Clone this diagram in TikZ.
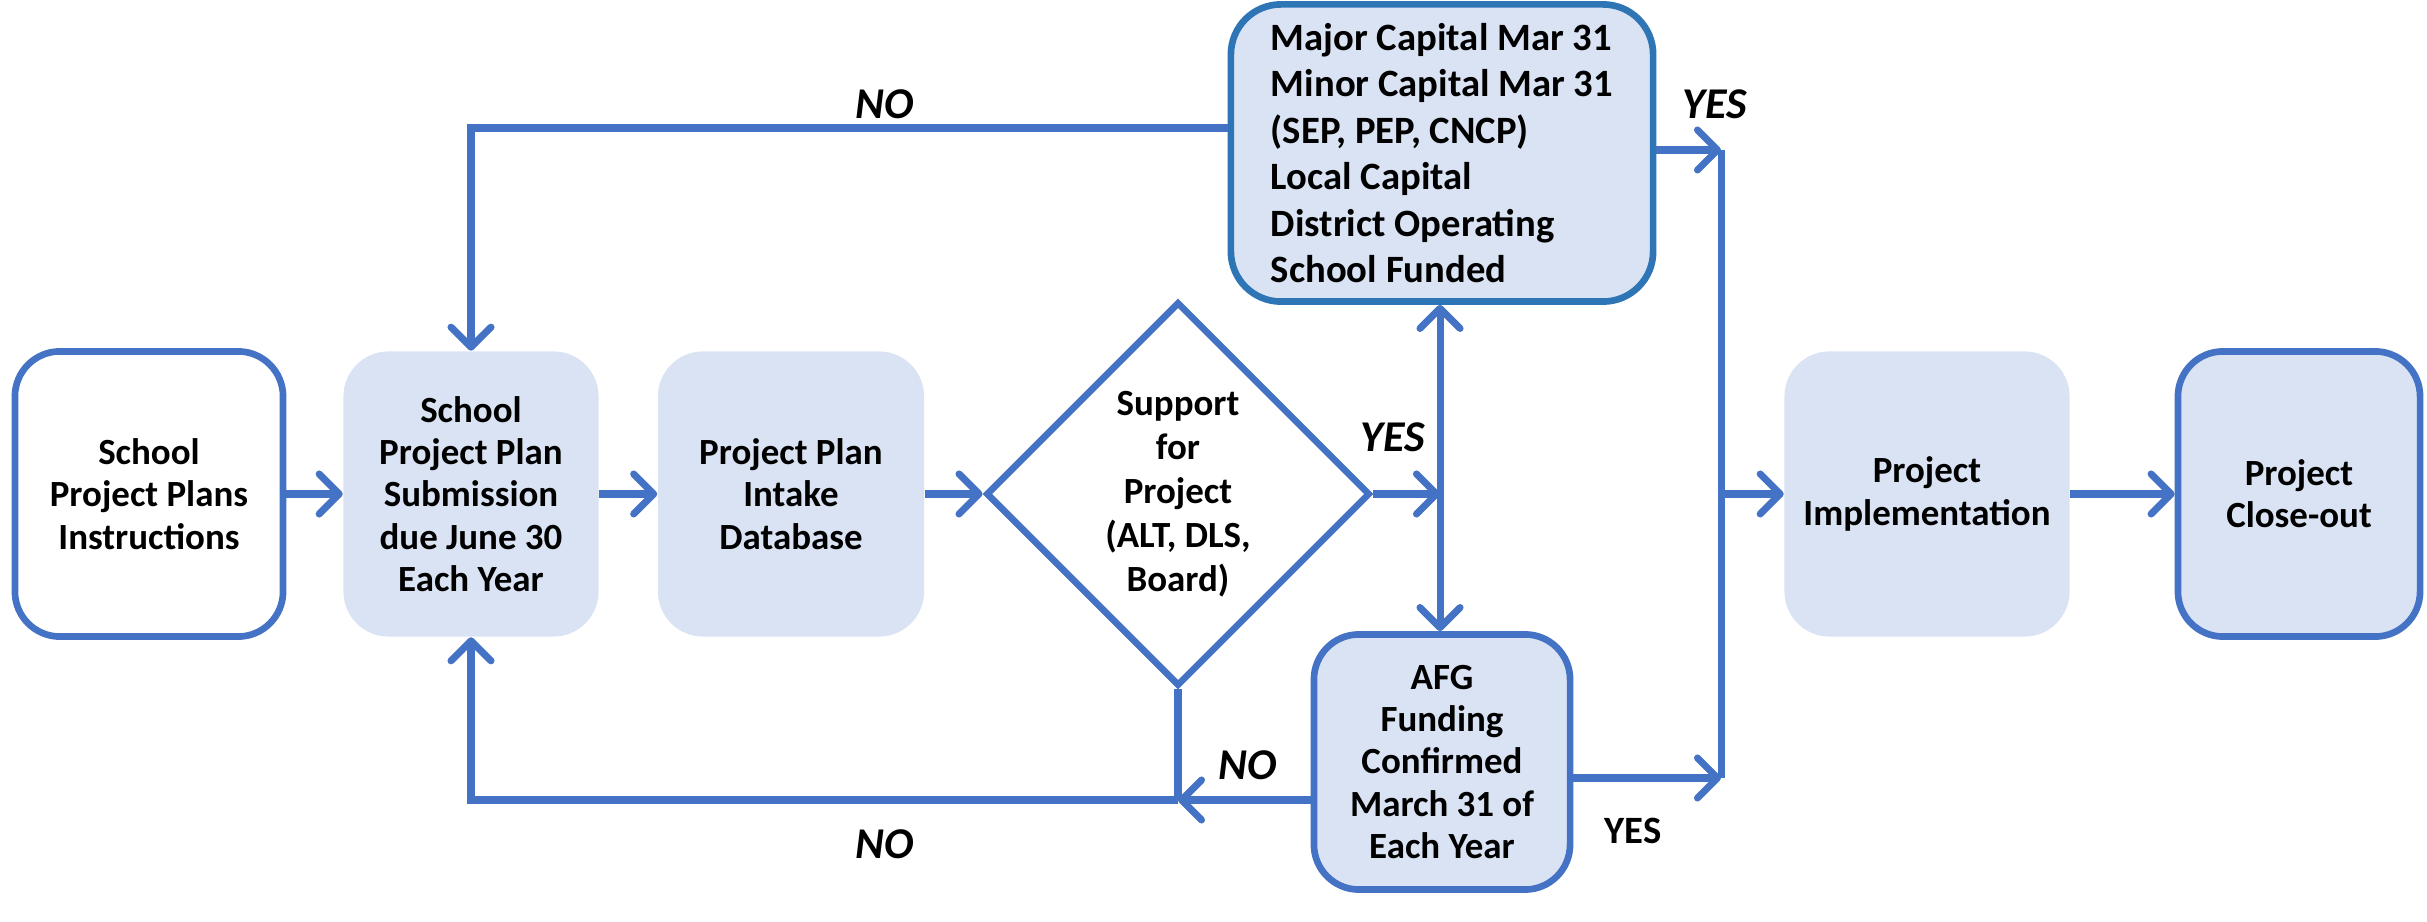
\documentclass[tikz,border=0pt]{standalone}
\usepackage{fontspec}
\setmainfont{Carlito}
\usetikzlibrary{arrows.meta,shapes.geometric}
\definecolor{flowblue}{HTML}{4472C4}
\definecolor{boxfill}{HTML}{DAE3F3}
\definecolor{darkedge}{HTML}{2E75B6}
\tikzset{
  box/.style={rounded corners=0.45cm, align=center, inner sep=0pt,
    font=\bfseries\fontsize{10.5}{12}\selectfont},
  filled/.style={box, fill=boxfill},
  outlined/.style={box, draw=flowblue, line width=1.9pt},
  wire/.style={draw=flowblue, line width=2pt},
  flow/.style={wire, -{Straight Barb[length=2mm,width=4mm,round]}},
  answer/.style={font=\bfseries\itshape\fontsize{12.5}{14}\selectfont}
}
\begin{document}
\begin{tikzpicture}[x=0.01cm,y=-0.01cm]
  \useasboundingbox (0,0) rectangle (2427,922);
  \begin{scope}[minimum height=2.85cm]
    \node[outlined, minimum width=2.68cm] (instr) at (149,494) {School\\Project Plans\\Instructions};
    \node[filled, minimum width=2.55cm] (submit) at (471,494) {School\\Project Plan\\Submission\\due June 30\\Each Year};
    \node[filled, minimum width=2.66cm] (intake) at (791,494) {Project Plan\\Intake\\Database};
    \node[filled, minimum width=2.85cm] (impl) at (1927,494) {Project\\Implementation};
    \node[outlined, fill=boxfill, minimum width=2.42cm] (closeout) at (2299,494) {Project\\Close-out};
  \end{scope}
  \node[diamond, draw=flowblue, fill=white, line width=1.9pt, inner sep=0pt,
    minimum width=3.84cm, minimum height=3.84cm, align=center,
    font=\bfseries\fontsize{10.5}{12.5}\selectfont] (support) at (1178,494)
    {Support\\for\\Project\\(ALT, DLS,\\Board)};
  \node[box, fill=boxfill, draw=darkedge, line width=1.9pt, rounded corners=0.5cm,
    minimum width=4.22cm, minimum height=2.97cm, align=left,
    font=\bfseries\fontsize{11}{13.2}\selectfont] (funded) at (1442,153)
    {Major Capital Mar 31\\Minor Capital Mar 31\\(SEP, PEP, CNCP)\\Local Capital\\District Operating\\School Funded};
  \node[outlined, fill=boxfill, minimum width=2.56cm, minimum height=2.55cm] (afg) at (1442,762)
    {AFG\\Funding\\Confirmed\\March 31 of\\Each Year};

  \coordinate (split) at (1440,494);
  \coordinate (upper) at (471,128);
  \coordinate (lower) at (471,800);
  \coordinate (merge) at (1178,800);
  \coordinate (railtop) at (1721,150);
  \coordinate (railbottom) at (1721,778);

  \draw[flow] (instr) -- (submit);
  \draw[flow] (submit) -- (intake);
  \draw[flow] (intake) -- (support);
  \draw[flow] (support) -- (split);
  \draw[flow] (split) -- (split |- funded.south);
  \draw[flow] (split) -- (split |- afg.north);
  \draw[flow] (funded.west |- upper) -- (upper) -- (submit.north);
  \draw[flow] (funded.east |- railtop) -- (railtop);
  \draw[wire] (railtop) -- (railbottom);
  \draw[flow] (afg.east |- railbottom) -- (railbottom);
  \draw[flow] (railtop |- impl) -- (impl);
  \draw[flow] (impl) -- (closeout);
  \draw[wire] (support.south) -- (merge);
  \draw[flow] (afg.west |- merge) -- (merge);
  \draw[flow] (merge) -- (lower) -- (submit.south);

  \node[answer] (noupper) at (885,104) {NO};
  \node[answer] (nolower) at (885,844) {NO};
  \node[answer] (nomerge) at (1248,765) {NO};
  \node[answer] (yessplit) at (1393,437) {YES};
  \node[answer] (yesfunded) at (1715,104) {YES};
  \node[font=\bfseries\fontsize{11}{13}\selectfont] (yesafg) at (1633,831) {YES};
\end{tikzpicture}
\end{document}
